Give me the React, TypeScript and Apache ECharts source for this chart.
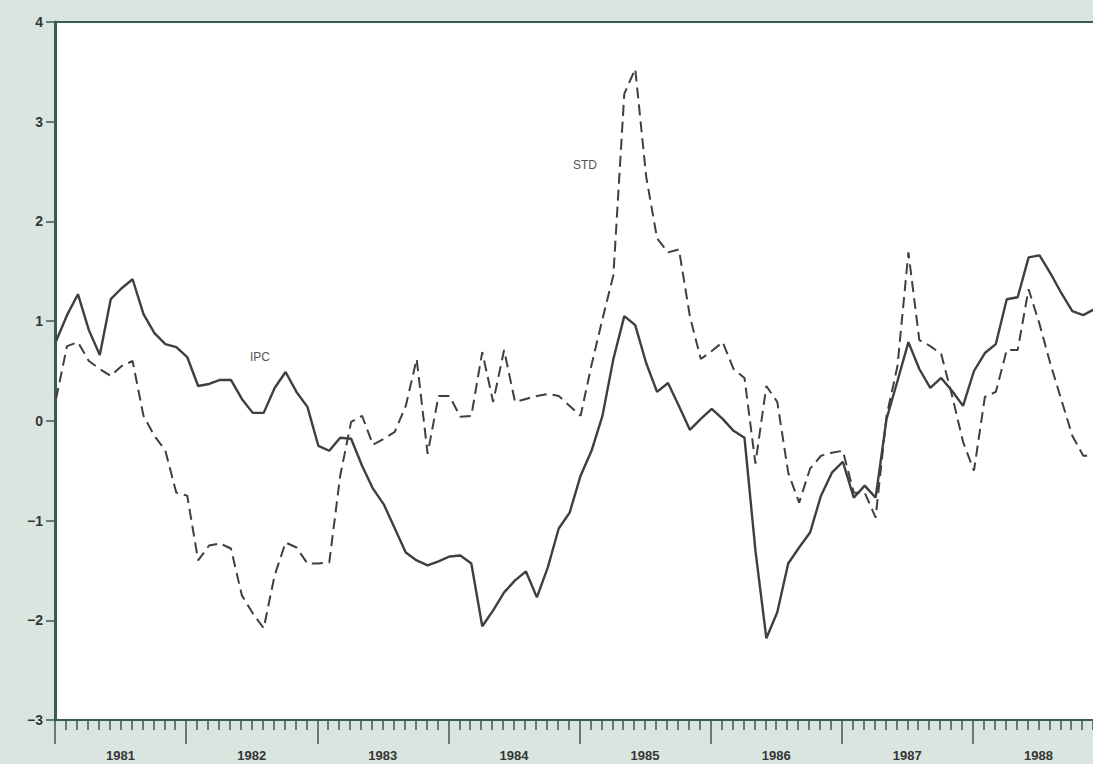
import React, { useEffect, useRef } from "react";
import * as echarts from "echarts";

// Monthly observations, Jan 1981 onward
const years = ["1981", "1982", "1983", "1984", "1985", "1986", "1987", "1988"];
const yTicks = [-3, -2, -1, 0, 1, 2, 3, 4];

const ipc = [
  0.80, 1.06, 1.27, 0.91, 0.66, 1.22, 1.33, 1.42, 1.07, 0.88, 0.77, 0.74,
  0.64, 0.35, 0.37, 0.41, 0.41, 0.22, 0.08, 0.08, 0.33, 0.49, 0.29, 0.14,
  -0.25, -0.30, -0.17, -0.18, -0.45, -0.68, -0.84, -1.08, -1.32, -1.40, -1.45, -1.41,
  -1.36, -1.35, -1.43, -2.06, -1.90, -1.72, -1.60, -1.51, -1.77, -1.47, -1.08, -0.92,
  -0.55, -0.30, 0.05, 0.62, 1.05, 0.96, 0.58, 0.29, 0.38, 0.15, -0.09, 0.02,
  0.12, 0.02, -0.10, -0.17, -1.30, -2.18, -1.92, -1.43, -1.27, -1.12, -0.75, -0.52,
  -0.41, -0.77, -0.65, -0.77, 0.02, 0.40, 0.79, 0.52, 0.33, 0.43, 0.30, 0.15,
  0.50, 0.68, 0.77, 1.22, 1.24, 1.64, 1.66, 1.48, 1.28, 1.10, 1.06, 1.12,
];

const std = [
  0.22, 0.75, 0.79, 0.60, 0.52, 0.45, 0.55, 0.60, 0.05, -0.15, -0.30, -0.72,
  -0.75, -1.40, -1.25, -1.23, -1.28, -1.75, -1.93, -2.08, -1.55, -1.22, -1.27, -1.43,
  -1.43, -1.42, -0.55, -0.01, 0.05, -0.24, -0.18, -0.11, 0.15, 0.62, -0.33, 0.25,
  0.25, 0.04, 0.05, 0.69, 0.19, 0.71, 0.19, 0.22, 0.25, 0.27, 0.25, 0.15,
  0.05, 0.56, 1.02, 1.46, 3.28, 3.53, 2.45, 1.83, 1.69, 1.72, 1.05, 0.62,
  0.70, 0.79, 0.52, 0.43, -0.43, 0.35, 0.19, -0.52, -0.82, -0.48, -0.35, -0.32,
  -0.30, -0.72, -0.72, -0.97, 0.05, 0.55, 1.69, 0.81, 0.75, 0.67, 0.25, -0.21,
  -0.50, 0.24, 0.29, 0.71, 0.71, 1.32, 0.97, 0.57, 0.21, -0.15, -0.35, -0.35,
];

const seriesNames = ["IPC", "STD"];

export default function App() {
  const ref = useRef<HTMLDivElement>(null);

  useEffect(() => {
    if (!ref.current) return;
    const chart = echarts.init(ref.current, null, { renderer: "svg" });
    const axisColor = "#3b5a51";
    const lineColor = "#3f3f3f";
    const textColor = "#353535";
    const nMonths = years.length * 12;
    const toPts = (arr: number[]) => arr.map((v, i) => [i + 0.1, v]);

    chart.setOption({
      animation: false,
      backgroundColor: "#dae5df",
      grid: {
        show: true,
        left: 55,
        top: 22,
        width: 1049,
        height: 698,
        outerBoundsMode: "none",
        containLabel: false,
        backgroundColor: "#ffffff",
        borderColor: axisColor,
        borderWidth: 2,
      },
      xAxis: [
        {
          type: "value",
          min: 0,
          max: nMonths,
          interval: 12,
          position: "bottom",
          axisLine: { show: true, onZero: false, lineStyle: { color: axisColor, width: 2 } },
          axisTick: { show: true, length: 24, lineStyle: { color: axisColor, width: 1.5 } },
          minorTick: { show: true, splitNumber: 12, length: 10, lineStyle: { color: axisColor, width: 1.5 } },
          axisLabel: { show: false },
          splitLine: { show: false },
          minorSplitLine: { show: false },
        },
        {
          type: "category",
          data: years,
          boundaryGap: true,
          position: "bottom",
          axisLine: { show: false, onZero: false },
          axisTick: { show: false },
          axisLabel: {
            margin: 29,
            fontSize: 13,
            fontWeight: "bold",
            color: textColor,
            fontFamily: "Liberation Sans, Arial, sans-serif",
          },
          splitLine: { show: false },
        },
      ],
      yAxis: {
        type: "value",
        min: yTicks[0],
        max: yTicks[yTicks.length - 1],
        interval: 1,
        axisLine: { show: true, lineStyle: { color: axisColor, width: 3 } },
        axisTick: { show: true, length: 9, lineStyle: { color: axisColor, width: 1.5 } },
        axisLabel: {
          margin: 12,
          fontSize: 14,
          fontWeight: "bold",
          color: textColor,
          fontFamily: "Liberation Sans, Arial, sans-serif",
          formatter: (v: number) => String(v).replace("-", "\u2212"),
        },
        splitLine: { show: false },
      },
      series: [
        {
          name: seriesNames[0],
          type: "line",
          xAxisIndex: 0,
          data: toPts(ipc),
          symbol: "none",
          lineStyle: { color: lineColor, width: 2.4 },
        },
        {
          name: seriesNames[1],
          type: "line",
          xAxisIndex: 0,
          data: toPts(std),
          symbol: "none",
          lineStyle: { color: lineColor, width: 2, type: [11, 6] },
        },
      ],
      graphic: [
        {
          type: "text",
          left: 250,
          top: 351,
          style: {
            text: seriesNames[0],
            fill: "#555",
            fontSize: 12,
            fontFamily: "Liberation Sans, Arial, sans-serif",
          },
        },
        {
          type: "text",
          left: 573,
          top: 159,
          style: {
            text: seriesNames[1],
            fill: "#555",
            fontSize: 12,
            fontFamily: "Liberation Sans, Arial, sans-serif",
          },
        },
      ],
    });
    return () => chart.dispose();
  }, []);

  return (
    <div
      ref={ref}
      style={{ position: "fixed", left: 0, top: 0, width: 1093, height: 764 }}
    />
  );
}
